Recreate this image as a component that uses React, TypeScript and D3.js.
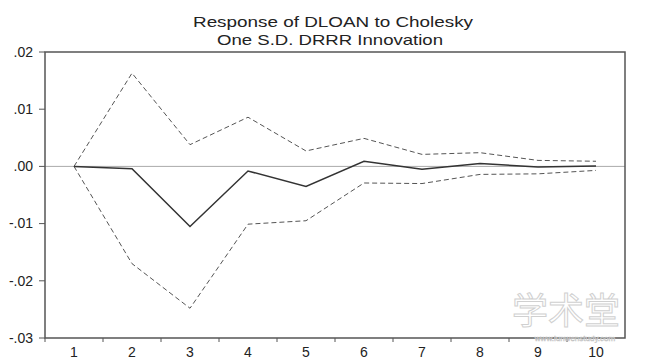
import React from "react";
import * as d3 from "d3";

const periods = [1, 2, 3, 4, 5, 6, 7, 8, 9, 10];
const response = [0.0, -0.0004, -0.0105, -0.0008, -0.0035, 0.0009, -0.0005, 0.0005, -0.0001, 0.00005];
const upperBand = [0.0, 0.0163, 0.0038, 0.0086, 0.0027, 0.0049, 0.0021, 0.0024, 0.00105, 0.0009];
const lowerBand = [0.0, -0.017, -0.0248, -0.0101, -0.0095, -0.0029, -0.003, -0.0014, -0.0013, -0.0007];
const yTicks = [0.02, 0.01, 0.0, -0.01, -0.02, -0.03];
const yTickLabels = [".02", ".01", ".00", "-.01", "-.02", "-.03"];
const titleLines = ["Response of DLOAN to Cholesky", "One S.D. DRRR Innovation"];

const W = 651;
const H = 358;
const left = 45;
const right = 625;
const top = 52;
const bottom = 338;

export default function App() {
  const x = d3.scaleBand<number>().domain(periods).range([left, right]).padding(0);
  const cx = (p: number) => (x(p) as number) + x.bandwidth() / 2;
  const y = d3.scaleLinear().domain([-0.03, 0.02]).range([bottom, top]);

  const line = d3
    .line<number>()
    .x((_, i) => cx(periods[i]))
    .y((d) => y(d));

  const boundaries = periods.map((p) => x(p) as number);
  const font = "'Liberation Sans', Arial, Helvetica, sans-serif";

  return (
    <svg
      width={W}
      height={H}
      style={{ position: "absolute", left: 0, top: 0, background: "#fff" }}
    >
      <rect x={0} y={0} width={W} height={H} fill="#fff" />
      {/* title */}
      <text
        x={333}
        y={26.5}
        textAnchor="middle"
        fontFamily={font}
        fontSize={15}
        fill="#222"
        textLength={280}
        lengthAdjust="spacingAndGlyphs"
      >
        {titleLines[0]}
      </text>
      <text
        x={330}
        y={45}
        textAnchor="middle"
        fontFamily={font}
        fontSize={15}
        fill="#222"
        textLength={226}
        lengthAdjust="spacingAndGlyphs"
      >
        {titleLines[1]}
      </text>

      {/* zero line */}
      <line x1={left} x2={right} y1={y(0)} y2={y(0)} stroke="#aaa" strokeWidth={1} />

      {/* y ticks */}
      {yTicks.map((t, i) => (
        <g key={"yt" + i}>
          <line x1={39} x2={left} y1={y(t)} y2={y(t)} stroke="#555" strokeWidth={1} />
          <text
            x={33}
            y={y(t) + 4.8}
            textAnchor="end"
            fontFamily={font}
            fontSize={14}
            fill="#222"
          >
            {yTickLabels[i]}
          </text>
        </g>
      ))}

      {/* x ticks */}
      {boundaries.map((b, i) => (
        <line key={"xt" + i} x1={b} x2={b} y1={bottom} y2={bottom + 4} stroke="#555" strokeWidth={1} />
      ))}
      {periods.map((p) => (
        <text
          key={"xl" + p}
          x={cx(p)}
          y={356.5}
          textAnchor="middle"
          fontFamily={font}
          fontSize={14}
          fill="#222"
        >
          {p}
        </text>
      ))}

      {/* bands */}
      <path d={line(upperBand) || ""} fill="none" stroke="#555" strokeWidth={1} strokeDasharray="5,3" />
      <path d={line(lowerBand) || ""} fill="none" stroke="#555" strokeWidth={1} strokeDasharray="5,3" />
      {/* response */}
      <path d={line(response) || ""} fill="none" stroke="#333" strokeWidth={1.5} />

      {/* frame */}
      <rect
        x={left}
        y={top}
        width={right - left}
        height={bottom - top}
        fill="none"
        stroke="#555"
        strokeWidth={1.5}
      />

      {/* watermark */}
      <text
        x={566}
        y={324}
        textAnchor="middle"
        fontFamily="'Noto Sans CJK SC', sans-serif"
        fontSize={36}
        fill="#fff"
        stroke="#ccc"
        strokeWidth={1}
        opacity={0.9}
      >
        学术堂
      </text>
      <text
        x={575}
        y={340.5}
        textAnchor="middle"
        fontFamily={font}
        fontSize={8}
        fill="#fff"
        stroke="#bbb"
        strokeWidth={0.5}
        opacity={0.9}
      >
        www.lunwenstudy.com
      </text>
    </svg>
  );
}
